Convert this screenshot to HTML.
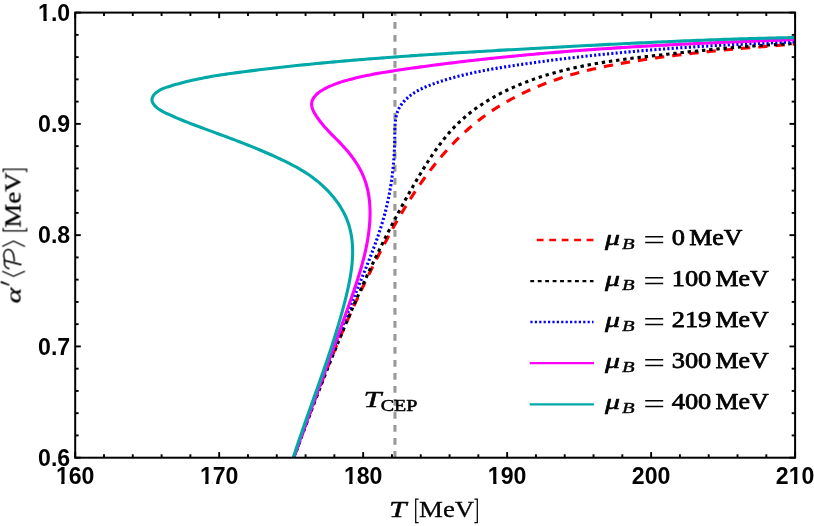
<!DOCTYPE html>
<html><head><meta charset="utf-8"><title>plot</title>
<style>
html,body{margin:0;padding:0;background:#fff;}
body{width:814px;height:526px;overflow:hidden;font-family:"Liberation Sans",sans-serif;}
svg{display:block;}
.tl text{font-family:"Liberation Sans",sans-serif;font-weight:bold;font-size:23.1px;fill:#000;}
.ser{font-family:"Liberation Serif",serif;fill:#000;}
</style></head><body>
<svg width="814" height="526" viewBox="0 0 814 526">
<rect x="0" y="0" width="814" height="526" fill="#fff"/>
<defs><clipPath id="cp"><rect x="75.2" y="12.6" width="719.9" height="445.09999999999997"/></clipPath></defs>
<g clip-path="url(#cp)" fill="none" stroke-linejoin="round">
<line x1="394.95" y1="8.9" x2="394.95" y2="460" stroke="#999999" stroke-width="3.1" stroke-dasharray="6.8 6.2"/>
<path d="M290.69,467.13 C291.00,466.24 291.31,465.34 291.61,464.45 C291.92,463.56 292.23,462.66 292.54,461.77 C292.85,460.88 293.15,459.98 293.46,459.09 C293.77,458.20 294.08,457.31 294.39,456.42 C294.70,455.52 295.01,454.63 295.33,453.74 C295.64,452.85 295.95,451.96 296.26,451.06 C296.57,450.17 296.89,449.28 297.20,448.39 C297.51,447.50 297.83,446.61 298.14,445.72 C298.45,444.83 298.77,443.94 299.08,443.05 C299.40,442.16 299.72,441.27 300.03,440.38 C300.35,439.49 300.66,438.60 300.98,437.71 C301.30,436.82 301.62,435.93 301.94,435.04 C302.26,434.15 302.57,433.26 302.89,432.37 C303.21,431.48 303.53,430.59 303.85,429.71 C304.18,428.82 304.50,427.93 304.82,427.04 C305.14,426.15 305.46,425.27 305.79,424.38 C306.11,423.49 306.43,422.60 306.76,421.72 C307.08,420.83 307.41,419.94 307.73,419.05 C308.06,418.17 308.39,417.28 308.71,416.40 C309.04,415.51 309.37,414.62 309.69,413.74 C310.02,412.85 310.35,411.97 310.68,411.08 C311.01,410.20 311.34,409.31 311.67,408.43 C312.00,407.54 312.33,406.66 312.66,405.77 C313.00,404.89 313.33,404.00 313.66,403.12 C314.00,402.24 314.33,401.35 314.66,400.47 C315.00,399.59 315.33,398.70 315.67,397.82 C316.01,396.94 316.34,396.06 316.68,395.17 C317.02,394.29 317.36,393.41 317.69,392.53 C318.03,391.65 318.37,390.76 318.71,389.88 C319.05,389.00 319.39,388.12 319.74,387.24 C320.08,386.36 320.42,385.48 320.76,384.60 C321.10,383.72 321.45,382.84 321.79,381.96 C322.14,381.08 322.48,380.20 322.83,379.32 C323.17,378.44 323.52,377.56 323.87,376.69 C324.22,375.81 324.56,374.93 324.91,374.05 C325.26,373.17 325.61,372.30 325.96,371.42 C326.31,370.54 326.66,369.67 327.01,368.79 C327.37,367.91 327.72,367.04 328.07,366.16 C328.43,365.28 328.78,364.41 329.14,363.53 C329.49,362.66 329.85,361.78 330.20,360.91 C330.56,360.03 330.92,359.16 331.28,358.29 C331.63,357.41 331.99,356.54 332.35,355.66 C332.71,354.79 333.07,353.92 333.43,353.05 C333.80,352.17 334.16,351.30 334.52,350.43 C334.88,349.56 335.25,348.68 335.61,347.81 C335.98,346.94 336.34,346.07 336.71,345.20 C337.07,344.33 337.44,343.46 337.81,342.59 C338.18,341.72 338.55,340.85 338.92,339.98 C339.29,339.11 339.66,338.24 340.03,337.37 C340.40,336.51 340.77,335.64 341.14,334.77 C341.52,333.90 341.89,333.04 342.27,332.17 C342.64,331.30 343.02,330.43 343.39,329.57 C343.77,328.70 344.15,327.84 344.53,326.97 C344.90,326.11 345.28,325.24 345.66,324.38 C346.04,323.51 346.43,322.65 346.81,321.78 C347.19,320.92 347.57,320.06 347.96,319.19 C348.34,318.33 348.72,317.47 349.11,316.60 C349.49,315.74 349.88,314.88 350.27,314.02 C350.66,313.16 351.04,312.30 351.43,311.44 C351.82,310.57 352.21,309.71 352.60,308.85 C352.99,307.99 353.39,307.14 353.78,306.28 C354.17,305.42 354.57,304.56 354.96,303.70 C355.35,302.84 355.75,301.98 356.15,301.13 C356.54,300.27 356.94,299.41 357.34,298.56 C357.74,297.70 358.14,296.84 358.54,295.99 C358.94,295.13 359.34,294.28 359.74,293.42 C360.14,292.57 360.55,291.71 360.95,290.86 C361.35,290.01 361.76,289.15 362.17,288.30 C362.57,287.45 362.98,286.60 363.39,285.74 C363.79,284.89 364.20,284.04 364.61,283.19 C365.02,282.34 365.43,281.49 365.85,280.64 C366.26,279.79 366.67,278.94 367.08,278.09 C367.50,277.24 367.91,276.39 368.33,275.54 C368.74,274.70 369.16,273.85 369.58,273.00 C370.00,272.15 370.41,271.31 370.83,270.46 C371.25,269.61 371.67,268.77 372.10,267.92 C372.52,267.08 372.94,266.23 373.36,265.39 C373.79,264.55 374.21,263.70 374.64,262.86 C375.06,262.01 375.49,261.17 375.92,260.33 C376.35,259.49 376.77,258.65 377.20,257.80 C377.63,256.96 378.06,256.12 378.50,255.28 C378.93,254.44 379.36,253.60 379.79,252.76 C380.23,251.92 380.66,251.09 381.10,250.25 C381.53,249.41 381.97,248.57 382.41,247.74 C382.85,246.90 383.29,246.06 383.73,245.23 C384.17,244.39 384.61,243.56 385.05,242.72 C385.49,241.89 385.94,241.05 386.38,240.22 C386.83,239.39 387.28,238.56 387.72,237.73 C388.17,236.89 388.62,236.06 389.07,235.23 C389.52,234.40 389.98,233.57 390.43,232.75 C390.89,231.92 391.34,231.09 391.80,230.26 C392.26,229.44 392.71,228.61 393.18,227.79 C393.64,226.96 394.10,226.14 394.56,225.32 C395.03,224.49 395.49,223.67 395.96,222.85 C396.43,222.03 396.89,221.21 397.36,220.39 C397.84,219.57 398.31,218.75 398.78,217.94 C399.26,217.12 399.73,216.31 400.21,215.49 C400.69,214.68 401.17,213.86 401.65,213.05 C402.13,212.24 402.62,211.43 403.10,210.62 C403.59,209.81 404.08,209.00 404.57,208.19 C405.06,207.38 405.55,206.58 406.05,205.77 C406.54,204.97 407.04,204.17 407.54,203.36 C408.04,202.56 408.54,201.76 409.04,200.96 C409.54,200.16 410.05,199.36 410.56,198.57 C411.07,197.77 411.58,196.98 412.09,196.18 C412.60,195.39 413.12,194.60 413.63,193.81 C414.15,193.02 414.67,192.23 415.19,191.44 C415.72,190.66 416.24,189.87 416.77,189.09 C417.30,188.31 417.83,187.52 418.36,186.74 C418.89,185.96 419.43,185.19 419.97,184.41 C420.51,183.63 421.05,182.86 421.59,182.09 C422.13,181.31 422.68,180.54 423.23,179.77 C423.78,179.01 424.33,178.24 424.88,177.48 C425.44,176.71 426.00,175.95 426.56,175.19 C427.12,174.43 427.68,173.67 428.25,172.91 C428.81,172.16 429.38,171.40 429.96,170.65 C430.53,169.90 431.10,169.15 431.68,168.41 C432.26,167.66 432.84,166.91 433.43,166.17 C434.01,165.43 434.60,164.69 435.19,163.95 C435.78,163.22 436.38,162.48 436.97,161.75 C437.57,161.02 438.17,160.29 438.77,159.56 C439.38,158.84 439.98,158.11 440.60,157.39 C441.21,156.67 441.82,155.95 442.44,155.24 C443.05,154.52 443.67,153.81 444.30,153.10 C444.92,152.39 445.55,151.69 446.18,150.98 C446.81,150.28 447.44,149.58 448.08,148.88 C448.72,148.19 449.36,147.49 450.00,146.80 C450.65,146.11 451.30,145.42 451.95,144.74 C452.60,144.06 453.25,143.38 453.91,142.70 C454.57,142.02 455.23,141.35 455.90,140.68 C456.57,140.01 457.24,139.34 457.91,138.68 C458.58,138.02 459.26,137.36 459.94,136.70 C460.62,136.05 461.30,135.40 461.99,134.75 C462.68,134.10 463.37,133.46 464.06,132.82 C464.76,132.18 465.46,131.54 466.16,130.91 C466.86,130.28 467.57,129.65 468.28,129.03 C468.99,128.41 469.70,127.79 470.42,127.17 C471.14,126.56 471.86,125.95 472.58,125.34 C473.31,124.74 474.03,124.13 474.77,123.54 C475.50,122.94 476.23,122.35 476.97,121.76 C477.71,121.17 478.46,120.59 479.20,120.01 C479.95,119.43 480.70,118.86 481.45,118.29 C482.21,117.72 482.97,117.16 483.73,116.60 C484.49,116.04 485.25,115.49 486.02,114.94 C486.79,114.39 487.56,113.84 488.34,113.30 C489.11,112.76 489.89,112.23 490.67,111.70 C491.45,111.17 492.24,110.64 493.03,110.12 C493.82,109.60 494.61,109.08 495.40,108.57 C496.19,108.06 496.99,107.55 497.79,107.05 C498.59,106.55 499.40,106.05 500.20,105.56 C501.01,105.07 501.82,104.58 502.63,104.10 C503.44,103.61 504.25,103.13 505.07,102.66 C505.89,102.18 506.71,101.71 507.53,101.25 C508.35,100.78 509.17,100.32 510.00,99.87 C510.83,99.41 511.66,98.96 512.49,98.51 C513.32,98.07 514.16,97.62 514.99,97.18 C515.83,96.75 516.67,96.31 517.51,95.88 C518.35,95.45 519.19,95.03 520.04,94.61 C520.89,94.19 521.73,93.77 522.58,93.36 C523.43,92.95 524.29,92.54 525.14,92.13 C525.99,91.73 526.85,91.33 527.71,90.94 C528.57,90.54 529.43,90.15 530.29,89.77 C531.15,89.38 532.01,89.00 532.88,88.62 C533.74,88.24 534.61,87.87 535.48,87.50 C536.35,87.13 537.22,86.76 538.09,86.40 C538.97,86.04 539.84,85.68 540.72,85.33 C541.59,84.98 542.47,84.63 543.35,84.28 C544.23,83.94 545.11,83.60 545.99,83.26 C546.88,82.92 547.76,82.59 548.65,82.26 C549.53,81.93 550.42,81.61 551.31,81.29 C552.19,80.97 553.08,80.65 553.98,80.34 C554.87,80.02 555.76,79.71 556.65,79.41 C557.55,79.10 558.44,78.80 559.34,78.51 C560.24,78.21 561.13,77.92 562.03,77.63 C562.93,77.34 563.83,77.05 564.73,76.77 C565.63,76.49 566.54,76.21 567.44,75.93 C568.35,75.66 569.25,75.39 570.16,75.12 C571.06,74.85 571.97,74.59 572.88,74.33 C573.78,74.07 574.69,73.81 575.60,73.56 C576.51,73.31 577.42,73.06 578.34,72.81 C579.25,72.56 580.16,72.32 581.07,72.08 C581.99,71.84 582.90,71.60 583.82,71.37 C584.73,71.13 585.65,70.90 586.56,70.68 C587.48,70.45 588.40,70.22 589.32,70.00 C590.24,69.78 591.15,69.56 592.07,69.35 C592.99,69.13 593.91,68.92 594.83,68.71 C595.76,68.50 596.68,68.29 597.60,68.08 C598.52,67.88 599.44,67.68 600.37,67.48 C601.29,67.28 602.21,67.08 603.14,66.89 C604.06,66.69 604.99,66.50 605.91,66.31 C606.84,66.12 607.76,65.93 608.69,65.75 C609.62,65.56 610.54,65.38 611.47,65.20 C612.40,65.02 613.32,64.84 614.25,64.67 C615.18,64.49 616.11,64.32 617.04,64.15 C617.97,63.97 618.90,63.80 619.83,63.64 C620.76,63.47 621.69,63.30 622.62,63.14 C623.55,62.98 624.48,62.81 625.41,62.65 C626.34,62.49 627.27,62.33 628.20,62.18 C629.13,62.02 630.06,61.86 631.00,61.71 C631.93,61.56 632.86,61.41 633.79,61.25 C634.72,61.10 635.66,60.96 636.59,60.81 C637.52,60.66 638.46,60.51 639.39,60.37 C640.32,60.22 641.26,60.08 642.19,59.94 C643.12,59.79 644.06,59.65 644.99,59.51 C645.93,59.37 646.86,59.23 647.79,59.10 C648.73,58.96 649.66,58.82 650.60,58.69 C651.53,58.55 652.47,58.42 653.40,58.28 C654.34,58.15 655.27,58.02 656.21,57.89 C657.14,57.76 658.08,57.63 659.02,57.50 C659.95,57.37 660.89,57.24 661.82,57.11 C662.76,56.99 663.70,56.86 664.63,56.74 C665.57,56.61 666.50,56.49 667.44,56.37 C668.38,56.24 669.31,56.12 670.25,56.00 C671.19,55.88 672.13,55.76 673.06,55.64 C674.00,55.52 674.94,55.41 675.87,55.29 C676.81,55.17 677.75,55.06 678.69,54.94 C679.62,54.83 680.56,54.71 681.50,54.60 C682.44,54.49 683.37,54.38 684.31,54.27 C685.25,54.15 686.19,54.04 687.13,53.94 C688.07,53.83 689.00,53.72 689.94,53.61 C690.88,53.50 691.82,53.40 692.76,53.29 C693.70,53.18 694.63,53.08 695.57,52.98 C696.51,52.87 697.45,52.77 698.39,52.67 C699.33,52.56 700.27,52.46 701.21,52.36 C702.15,52.26 703.09,52.16 704.03,52.06 C704.96,51.96 705.90,51.86 706.84,51.77 C707.78,51.67 708.72,51.57 709.66,51.47 C710.60,51.38 711.54,51.28 712.48,51.19 C713.42,51.09 714.36,51.00 715.30,50.90 C716.24,50.81 717.18,50.72 718.12,50.63 C719.06,50.53 720.00,50.44 720.94,50.35 C721.88,50.26 722.82,50.17 723.76,50.08 C724.70,49.99 725.64,49.90 726.58,49.81 C727.52,49.72 728.46,49.64 729.40,49.55 C730.34,49.46 731.28,49.38 732.23,49.29 C733.17,49.20 734.11,49.12 735.05,49.03 C735.99,48.95 736.93,48.86 737.87,48.78 C738.81,48.69 739.75,48.61 740.69,48.53 C741.63,48.45 742.57,48.36 743.51,48.28 C744.46,48.20 745.40,48.12 746.34,48.04 C747.28,47.95 748.22,47.87 749.16,47.79 C750.10,47.71 751.04,47.63 751.98,47.55 C752.93,47.48 753.87,47.40 754.81,47.32 C755.75,47.24 756.69,47.16 757.63,47.08 C758.57,47.01 759.52,46.93 760.46,46.85 C761.40,46.77 762.34,46.70 763.28,46.62 C764.22,46.54 765.16,46.47 766.11,46.39 C767.05,46.32 767.99,46.24 768.93,46.17 C769.87,46.09 770.81,46.02 771.75,45.94 C772.70,45.87 773.64,45.79 774.58,45.72 C775.52,45.64 776.46,45.57 777.40,45.50 C778.35,45.42 779.29,45.35 780.23,45.28 C781.17,45.20 782.11,45.13 783.05,45.06 C784.00,44.98 784.94,44.91 785.88,44.84 C786.82,44.77 787.76,44.69 788.71,44.62 C789.65,44.55 790.59,44.48 791.53,44.40 C792.47,44.33 793.41,44.26 794.36,44.19 C795.30,44.12 796.24,44.05 797.18,43.97 C798.12,43.90 799.06,43.83 800.01,43.76" stroke="#ff0000" stroke-width="3.10" stroke-dasharray="9.3 8.0" stroke-dashoffset="0.00"/>
<path d="M290.38,466.86 C290.72,465.97 291.05,465.07 291.38,464.18 C291.71,463.28 292.04,462.39 292.37,461.49 C292.70,460.59 293.03,459.70 293.37,458.80 C293.70,457.91 294.03,457.01 294.36,456.12 C294.69,455.22 295.02,454.32 295.36,453.43 C295.69,452.53 296.02,451.64 296.35,450.74 C296.68,449.85 297.02,448.95 297.35,448.06 C297.68,447.16 298.01,446.27 298.34,445.37 C298.68,444.48 299.01,443.58 299.34,442.69 C299.68,441.79 300.01,440.90 300.34,440.00 C300.68,439.11 301.01,438.21 301.34,437.32 C301.68,436.42 302.01,435.53 302.34,434.63 C302.68,433.74 303.01,432.84 303.35,431.95 C303.68,431.05 304.01,430.16 304.35,429.26 C304.68,428.37 305.02,427.47 305.35,426.58 C305.69,425.69 306.02,424.79 306.36,423.90 C306.69,423.00 307.03,422.11 307.37,421.22 C307.70,420.32 308.04,419.43 308.38,418.53 C308.71,417.64 309.05,416.75 309.39,415.85 C309.72,414.96 310.06,414.07 310.40,413.17 C310.74,412.28 311.07,411.39 311.41,410.49 C311.75,409.60 312.09,408.71 312.43,407.81 C312.77,406.92 313.11,406.03 313.45,405.14 C313.78,404.24 314.12,403.35 314.46,402.46 C314.80,401.57 315.15,400.67 315.49,399.78 C315.83,398.89 316.17,398.00 316.51,397.11 C316.85,396.21 317.19,395.32 317.54,394.43 C317.88,393.54 318.22,392.65 318.56,391.76 C318.91,390.87 319.25,389.97 319.59,389.08 C319.94,388.19 320.28,387.30 320.63,386.41 C320.97,385.52 321.32,384.63 321.66,383.74 C322.01,382.85 322.35,381.96 322.70,381.07 C323.05,380.18 323.39,379.29 323.74,378.40 C324.09,377.51 324.44,376.62 324.78,375.73 C325.13,374.84 325.48,373.95 325.83,373.06 C326.18,372.18 326.53,371.29 326.88,370.40 C327.23,369.51 327.58,368.62 327.93,367.73 C328.28,366.85 328.63,365.96 328.98,365.07 C329.34,364.18 329.69,363.29 330.04,362.41 C330.40,361.52 330.75,360.63 331.10,359.75 C331.46,358.86 331.81,357.97 332.17,357.09 C332.52,356.20 332.88,355.31 333.23,354.43 C333.59,353.54 333.95,352.66 334.31,351.77 C334.66,350.88 335.02,350.00 335.38,349.11 C335.74,348.23 336.10,347.34 336.46,346.46 C336.82,345.57 337.18,344.69 337.54,343.81 C337.90,342.92 338.26,342.04 338.62,341.15 C338.99,340.27 339.35,339.39 339.71,338.50 C340.08,337.62 340.44,336.74 340.80,335.86 C341.17,334.97 341.53,334.09 341.90,333.21 C342.27,332.33 342.63,331.45 343.00,330.56 C343.37,329.68 343.74,328.80 344.11,327.92 C344.47,327.04 344.84,326.16 345.21,325.28 C345.58,324.40 345.95,323.52 346.33,322.64 C346.70,321.76 347.07,320.88 347.44,320.00 C347.82,319.12 348.19,318.24 348.56,317.36 C348.94,316.48 349.31,315.61 349.69,314.73 C350.07,313.85 350.44,312.97 350.82,312.10 C351.20,311.22 351.58,310.34 351.95,309.46 C352.33,308.59 352.71,307.71 353.09,306.84 C353.47,305.96 353.85,305.08 354.24,304.21 C354.62,303.33 355.00,302.46 355.38,301.58 C355.77,300.71 356.15,299.84 356.54,298.96 C356.92,298.09 357.31,297.21 357.70,296.34 C358.08,295.47 358.47,294.60 358.86,293.72 C359.25,292.85 359.64,291.98 360.03,291.11 C360.42,290.24 360.81,289.36 361.20,288.49 C361.59,287.62 361.98,286.75 362.38,285.88 C362.77,285.01 363.17,284.14 363.56,283.27 C363.96,282.40 364.35,281.53 364.75,280.67 C365.15,279.80 365.55,278.93 365.94,278.06 C366.34,277.19 366.74,276.33 367.14,275.46 C367.54,274.59 367.95,273.73 368.35,272.86 C368.75,271.99 369.15,271.13 369.56,270.26 C369.96,269.40 370.37,268.53 370.78,267.67 C371.18,266.80 371.59,265.94 372.00,265.08 C372.41,264.21 372.81,263.35 373.22,262.49 C373.63,261.63 374.05,260.76 374.46,259.90 C374.87,259.04 375.28,258.18 375.70,257.32 C376.11,256.46 376.53,255.60 376.94,254.74 C377.36,253.88 377.77,253.02 378.19,252.16 C378.61,251.30 379.03,250.45 379.45,249.59 C379.87,248.73 380.29,247.87 380.71,247.02 C381.14,246.16 381.56,245.30 381.98,244.45 C382.41,243.59 382.83,242.74 383.26,241.88 C383.68,241.03 384.11,240.17 384.54,239.32 C384.97,238.47 385.40,237.61 385.83,236.76 C386.26,235.91 386.69,235.06 387.12,234.21 C387.56,233.35 387.99,232.50 388.42,231.65 C388.86,230.80 389.30,229.95 389.73,229.10 C390.17,228.25 390.61,227.41 391.05,226.56 C391.49,225.71 391.93,224.86 392.37,224.02 C392.81,223.17 393.25,222.32 393.70,221.48 C394.14,220.63 394.58,219.79 395.03,218.94 C395.48,218.10 395.92,217.25 396.37,216.41 C396.82,215.57 397.27,214.72 397.72,213.88 C398.17,213.04 398.62,212.20 399.07,211.36 C399.53,210.52 399.98,209.68 400.44,208.84 C400.89,208.00 401.35,207.16 401.81,206.32 C402.26,205.48 402.72,204.65 403.18,203.81 C403.64,202.97 404.10,202.14 404.57,201.30 C405.03,200.46 405.49,199.63 405.96,198.79 C406.42,197.96 406.89,197.13 407.35,196.29 C407.82,195.46 408.29,194.63 408.76,193.80 C409.23,192.97 409.70,192.13 410.17,191.30 C410.64,190.47 411.12,189.64 411.59,188.82 C412.06,187.99 412.54,187.16 413.02,186.33 C413.49,185.50 413.97,184.68 414.45,183.85 C414.93,183.03 415.41,182.20 415.89,181.38 C416.38,180.55 416.86,179.73 417.34,178.90 C417.83,178.08 418.31,177.26 418.80,176.44 C419.29,175.62 419.78,174.80 420.27,173.98 C420.76,173.16 421.25,172.34 421.75,171.52 C422.24,170.71 422.74,169.89 423.24,169.08 C423.74,168.26 424.24,167.45 424.74,166.64 C425.25,165.83 425.75,165.02 426.26,164.21 C426.77,163.40 427.29,162.60 427.80,161.79 C428.32,160.99 428.83,160.19 429.36,159.39 C429.88,158.59 430.40,157.79 430.93,156.99 C431.46,156.20 431.99,155.40 432.53,154.61 C433.06,153.82 433.60,153.04 434.14,152.25 C434.69,151.46 435.23,150.68 435.79,149.90 C436.34,149.12 436.89,148.35 437.45,147.57 C438.01,146.80 438.58,146.03 439.15,145.26 C439.72,144.50 440.29,143.73 440.87,142.97 C441.45,142.21 442.03,141.46 442.62,140.71 C443.21,139.95 443.80,139.21 444.40,138.46 C445.00,137.72 445.61,136.98 446.22,136.24 C446.83,135.51 447.44,134.78 448.06,134.05 C448.69,133.33 449.31,132.61 449.95,131.89 C450.58,131.18 451.22,130.47 451.86,129.76 C452.51,129.06 453.16,128.36 453.81,127.67 C454.47,126.97 455.13,126.29 455.80,125.61 C456.47,124.92 457.15,124.25 457.83,123.58 C458.51,122.91 459.20,122.25 459.90,121.60 C460.59,120.94 461.29,120.29 462.00,119.65 C462.71,119.01 463.42,118.37 464.14,117.75 C464.86,117.12 465.59,116.50 466.32,115.88 C467.05,115.27 467.79,114.66 468.53,114.06 C469.27,113.46 470.02,112.87 470.77,112.28 C471.52,111.69 472.28,111.11 473.04,110.54 C473.81,109.96 474.58,109.39 475.35,108.83 C476.12,108.27 476.90,107.71 477.68,107.17 C478.46,106.62 479.25,106.07 480.04,105.54 C480.83,105.00 481.62,104.47 482.42,103.95 C483.22,103.43 484.02,102.91 484.83,102.40 C485.63,101.89 486.44,101.38 487.26,100.88 C488.07,100.38 488.89,99.89 489.71,99.40 C490.53,98.91 491.36,98.43 492.19,97.96 C493.01,97.48 493.85,97.01 494.68,96.55 C495.51,96.08 496.35,95.62 497.19,95.17 C498.03,94.72 498.88,94.27 499.72,93.83 C500.57,93.39 501.42,92.95 502.27,92.52 C503.12,92.09 503.98,91.66 504.84,91.24 C505.69,90.82 506.55,90.40 507.42,89.99 C508.28,89.58 509.14,89.18 510.01,88.78 C510.88,88.38 511.75,87.99 512.62,87.60 C513.49,87.21 514.37,86.82 515.24,86.44 C516.12,86.06 517.00,85.69 517.88,85.32 C518.76,84.95 519.64,84.58 520.52,84.22 C521.41,83.86 522.29,83.50 523.18,83.15 C524.07,82.80 524.96,82.45 525.85,82.11 C526.74,81.77 527.64,81.43 528.53,81.10 C529.43,80.77 530.32,80.44 531.22,80.11 C532.12,79.79 533.02,79.47 533.92,79.15 C534.82,78.84 535.73,78.53 536.63,78.22 C537.53,77.91 538.44,77.61 539.35,77.31 C540.25,77.01 541.16,76.72 542.07,76.43 C542.98,76.14 543.89,75.86 544.81,75.57 C545.72,75.29 546.63,75.01 547.55,74.74 C548.46,74.47 549.38,74.20 550.30,73.93 C551.21,73.67 552.13,73.40 553.05,73.14 C553.97,72.89 554.89,72.63 555.81,72.38 C556.73,72.13 557.66,71.88 558.58,71.64 C559.50,71.40 560.43,71.16 561.35,70.92 C562.28,70.68 563.20,70.45 564.13,70.22 C565.06,69.99 565.99,69.77 566.92,69.54 C567.84,69.32 568.77,69.10 569.70,68.89 C570.63,68.67 571.57,68.46 572.50,68.25 C573.43,68.04 574.36,67.83 575.29,67.63 C576.23,67.43 577.16,67.23 578.10,67.03 C579.03,66.83 579.96,66.64 580.90,66.44 C581.84,66.25 582.77,66.06 583.71,65.88 C584.65,65.69 585.58,65.51 586.52,65.33 C587.46,65.15 588.40,64.97 589.34,64.79 C590.27,64.62 591.21,64.45 592.15,64.28 C593.09,64.11 594.03,63.94 594.97,63.77 C595.91,63.61 596.86,63.44 597.80,63.28 C598.74,63.12 599.68,62.96 600.62,62.81 C601.56,62.65 602.51,62.50 603.45,62.35 C604.39,62.19 605.34,62.04 606.28,61.90 C607.22,61.75 608.17,61.60 609.11,61.46 C610.05,61.32 611.00,61.17 611.94,61.03 C612.89,60.89 613.83,60.75 614.78,60.62 C615.72,60.48 616.67,60.35 617.61,60.21 C618.56,60.08 619.51,59.95 620.45,59.82 C621.40,59.69 622.34,59.56 623.29,59.43 C624.24,59.30 625.18,59.18 626.13,59.05 C627.08,58.93 628.02,58.81 628.97,58.68 C629.92,58.56 630.87,58.44 631.81,58.32 C632.76,58.20 633.71,58.08 634.66,57.97 C635.60,57.85 636.55,57.73 637.50,57.62 C638.45,57.50 639.40,57.39 640.34,57.27 C641.29,57.16 642.24,57.05 643.19,56.94 C644.14,56.82 645.09,56.71 646.03,56.60 C646.98,56.49 647.93,56.38 648.88,56.27 C649.83,56.16 650.78,56.06 651.73,55.95 C652.68,55.84 653.63,55.73 654.57,55.62 C655.52,55.52 656.47,55.41 657.42,55.30 C658.37,55.20 659.32,55.09 660.27,54.99 C661.22,54.88 662.17,54.77 663.12,54.67 C664.06,54.56 665.01,54.46 665.96,54.35 C666.91,54.25 667.86,54.14 668.81,54.04 C669.76,53.93 670.71,53.83 671.66,53.72 C672.61,53.62 673.56,53.52 674.51,53.41 C675.46,53.31 676.41,53.20 677.35,53.10 C678.30,53.00 679.25,52.90 680.20,52.79 C681.15,52.69 682.10,52.59 683.05,52.49 C684.00,52.38 684.95,52.28 685.90,52.18 C686.85,52.08 687.80,51.98 688.75,51.88 C689.70,51.78 690.65,51.68 691.60,51.58 C692.55,51.48 693.50,51.38 694.45,51.28 C695.40,51.19 696.35,51.09 697.30,50.99 C698.25,50.89 699.20,50.80 700.15,50.70 C701.10,50.60 702.05,50.51 703.00,50.41 C703.95,50.31 704.90,50.22 705.85,50.13 C706.80,50.03 707.75,49.94 708.70,49.84 C709.65,49.75 710.60,49.66 711.55,49.57 C712.50,49.47 713.45,49.38 714.40,49.29 C715.35,49.20 716.31,49.11 717.26,49.02 C718.21,48.93 719.16,48.84 720.11,48.75 C721.06,48.66 722.01,48.58 722.96,48.49 C723.91,48.40 724.86,48.32 725.81,48.23 C726.77,48.14 727.72,48.06 728.67,47.98 C729.62,47.89 730.57,47.81 731.52,47.73 C732.47,47.64 733.43,47.56 734.38,47.48 C735.33,47.40 736.28,47.32 737.23,47.24 C738.18,47.16 739.13,47.08 740.09,47.00 C741.04,46.93 741.99,46.85 742.94,46.77 C743.89,46.70 744.85,46.62 745.80,46.55 C746.75,46.47 747.70,46.40 748.65,46.33 C749.61,46.25 750.56,46.18 751.51,46.11 C752.46,46.04 753.42,45.97 754.37,45.90 C755.32,45.83 756.27,45.76 757.23,45.70 C758.18,45.63 759.13,45.56 760.09,45.50 C761.04,45.43 761.99,45.37 762.94,45.31 C763.90,45.24 764.85,45.18 765.80,45.12 C766.76,45.06 767.71,45.00 768.66,44.94 C769.62,44.88 770.57,44.83 771.52,44.77 C772.47,44.71 773.43,44.66 774.38,44.60 C775.34,44.55 776.29,44.49 777.24,44.44 C778.20,44.39 779.15,44.34 780.10,44.29 C781.06,44.24 782.01,44.19 782.96,44.14 C783.92,44.09 784.87,44.05 785.83,44.00 C786.78,43.96 787.73,43.91 788.69,43.87 C789.64,43.82 790.60,43.78 791.55,43.74 C792.50,43.70 793.46,43.66 794.41,43.62 C795.37,43.59 796.32,43.55 797.28,43.51 C798.23,43.48 799.18,43.44 800.14,43.41" stroke="#000000" stroke-width="3.10" stroke-dasharray="3.4 3.811" stroke-dashoffset="-1.83"/>
<path d="M290.64,467.00 C290.97,466.04 291.31,465.08 291.65,464.12 C291.99,463.16 292.33,462.20 292.67,461.25 C293.01,460.29 293.35,459.33 293.69,458.37 C294.03,457.41 294.37,456.45 294.71,455.49 C295.05,454.54 295.39,453.58 295.73,452.62 C296.07,451.66 296.41,450.70 296.75,449.74 C297.09,448.79 297.43,447.83 297.77,446.87 C298.11,445.91 298.45,444.95 298.80,444.00 C299.14,443.04 299.48,442.08 299.82,441.12 C300.16,440.16 300.50,439.21 300.85,438.25 C301.19,437.29 301.53,436.33 301.87,435.38 C302.22,434.42 302.56,433.46 302.90,432.50 C303.25,431.55 303.59,430.59 303.93,429.63 C304.28,428.67 304.62,427.72 304.96,426.76 C305.31,425.80 305.65,424.85 306.00,423.89 C306.34,422.93 306.68,421.98 307.03,421.02 C307.37,420.06 307.72,419.11 308.07,418.15 C308.41,417.19 308.76,416.24 309.10,415.28 C309.45,414.32 309.79,413.37 310.14,412.41 C310.49,411.45 310.83,410.50 311.18,409.54 C311.53,408.59 311.88,407.63 312.22,406.68 C312.57,405.72 312.92,404.76 313.27,403.81 C313.62,402.85 313.96,401.90 314.31,400.94 C314.66,399.99 315.01,399.03 315.36,398.08 C315.71,397.12 316.06,396.17 316.41,395.21 C316.76,394.26 317.11,393.30 317.46,392.35 C317.81,391.39 318.16,390.44 318.52,389.48 C318.87,388.53 319.22,387.58 319.57,386.62 C319.92,385.67 320.28,384.71 320.63,383.76 C320.98,382.81 321.33,381.85 321.69,380.90 C322.04,379.95 322.40,378.99 322.75,378.04 C323.10,377.09 323.46,376.13 323.81,375.18 C324.17,374.23 324.52,373.27 324.88,372.32 C325.24,371.37 325.59,370.42 325.95,369.46 C326.31,368.51 326.66,367.56 327.02,366.61 C327.38,365.65 327.73,364.70 328.09,363.75 C328.45,362.80 328.81,361.85 329.17,360.90 C329.53,359.94 329.89,358.99 330.25,358.04 C330.61,357.09 330.97,356.14 331.33,355.19 C331.69,354.24 332.05,353.29 332.41,352.34 C332.77,351.39 333.13,350.43 333.50,349.48 C333.86,348.53 334.22,347.58 334.59,346.63 C334.95,345.68 335.31,344.74 335.68,343.79 C336.04,342.84 336.41,341.89 336.77,340.94 C337.14,339.99 337.50,339.04 337.87,338.09 C338.23,337.14 338.60,336.19 338.97,335.24 C339.34,334.30 339.70,333.35 340.07,332.40 C340.44,331.45 340.81,330.50 341.18,329.56 C341.55,328.61 341.91,327.66 342.28,326.71 C342.65,325.77 343.03,324.82 343.40,323.87 C343.77,322.93 344.14,321.98 344.51,321.03 C344.88,320.09 345.26,319.14 345.63,318.19 C346.00,317.25 346.38,316.30 346.75,315.36 C347.12,314.41 347.50,313.46 347.87,312.52 C348.25,311.57 348.62,310.63 349.00,309.68 C349.38,308.74 349.75,307.79 350.13,306.85 C350.51,305.91 350.89,304.96 351.26,304.02 C351.64,303.07 352.02,302.13 352.40,301.19 C352.78,300.24 353.16,299.30 353.54,298.36 C353.92,297.41 354.30,296.47 354.69,295.53 C355.07,294.59 355.45,293.64 355.83,292.70 C356.22,291.76 356.60,290.82 356.98,289.88 C357.37,288.93 357.75,287.99 358.14,287.05 C358.52,286.11 358.91,285.17 359.29,284.23 C359.68,283.29 360.06,282.35 360.45,281.40 C360.84,280.46 361.22,279.52 361.61,278.58 C361.99,277.64 362.38,276.70 362.76,275.76 C363.15,274.82 363.53,273.87 363.91,272.93 C364.30,271.99 364.68,271.05 365.06,270.11 C365.44,269.16 365.83,268.22 366.21,267.28 C366.59,266.33 366.96,265.39 367.34,264.45 C367.72,263.50 368.10,262.56 368.47,261.61 C368.84,260.67 369.22,259.72 369.59,258.77 C369.96,257.83 370.33,256.88 370.70,255.93 C371.07,254.98 371.43,254.03 371.79,253.08 C372.16,252.13 372.52,251.18 372.88,250.23 C373.24,249.28 373.59,248.33 373.95,247.37 C374.30,246.42 374.65,245.47 375.00,244.51 C375.35,243.55 375.69,242.60 376.04,241.64 C376.38,240.68 376.72,239.72 377.05,238.76 C377.39,237.80 377.72,236.84 378.05,235.88 C378.38,234.92 378.70,233.95 379.03,232.99 C379.35,232.02 379.66,231.06 379.98,230.09 C380.29,229.12 380.60,228.15 380.91,227.18 C381.21,226.21 381.51,225.24 381.81,224.27 C382.10,223.30 382.40,222.32 382.68,221.35 C382.97,220.37 383.25,219.39 383.53,218.42 C383.81,217.44 384.08,216.46 384.34,215.48 C384.61,214.49 384.87,213.51 385.13,212.53 C385.38,211.54 385.63,210.56 385.88,209.57 C386.12,208.58 386.36,207.60 386.60,206.61 C386.83,205.62 387.06,204.63 387.29,203.63 C387.51,202.64 387.73,201.65 387.95,200.65 C388.16,199.66 388.37,198.66 388.57,197.67 C388.78,196.67 388.97,195.67 389.17,194.68 C389.36,193.68 389.55,192.68 389.73,191.68 C389.91,190.68 390.09,189.68 390.26,188.67 C390.44,187.67 390.60,186.67 390.77,185.66 C390.93,184.66 391.09,183.66 391.24,182.65 C391.39,181.64 391.54,180.64 391.68,179.63 C391.82,178.62 391.96,177.62 392.09,176.61 C392.22,175.60 392.35,174.59 392.47,173.58 C392.59,172.57 392.71,171.56 392.82,170.55 C392.93,169.54 393.04,168.53 393.14,167.52 C393.24,166.50 393.34,165.49 393.43,164.48 C393.53,163.47 393.61,162.45 393.70,161.44 C393.78,160.43 393.86,159.41 393.93,158.40 C394.00,157.38 394.07,156.37 394.13,155.35 C394.20,154.34 394.26,153.32 394.31,152.31 C394.36,151.29 394.41,150.28 394.46,149.26 C394.50,148.24 394.54,147.23 394.58,146.21 C394.61,145.19 394.65,144.18 394.67,143.16 C394.70,142.14 394.72,141.13 394.74,140.11 C394.76,139.09 394.77,138.08 394.78,137.06 C394.79,136.04 394.79,135.03 394.79,134.01 C394.80,132.99 394.80,131.98 394.82,130.96 C394.83,129.94 394.85,128.92 394.88,127.91 C394.91,126.89 394.95,125.88 395.02,124.86 C395.08,123.85 395.16,122.83 395.26,121.82 C395.37,120.81 395.50,119.80 395.66,118.80 C395.83,117.79 396.02,116.79 396.26,115.80 C396.50,114.82 396.77,113.83 397.09,112.87 C397.41,111.91 397.78,110.95 398.20,110.03 C398.62,109.10 399.09,108.20 399.60,107.32 C400.11,106.44 400.66,105.59 401.25,104.76 C401.84,103.93 402.47,103.13 403.12,102.35 C403.78,101.57 404.46,100.82 405.17,100.09 C405.88,99.36 406.62,98.66 407.38,97.98 C408.13,97.30 408.91,96.65 409.71,96.02 C410.51,95.39 411.33,94.78 412.16,94.20 C412.99,93.61 413.84,93.05 414.70,92.51 C415.56,91.97 416.44,91.45 417.32,90.95 C418.21,90.45 419.11,89.97 420.01,89.51 C420.92,89.04 421.83,88.60 422.75,88.17 C423.67,87.74 424.60,87.33 425.54,86.92 C426.47,86.52 427.41,86.14 428.36,85.76 C429.30,85.38 430.25,85.02 431.21,84.66 C432.16,84.31 433.11,83.96 434.07,83.62 C435.03,83.29 436.00,82.96 436.96,82.63 C437.92,82.31 438.89,81.99 439.86,81.67 C440.82,81.36 441.79,81.05 442.76,80.74 C443.73,80.44 444.70,80.14 445.68,79.85 C446.65,79.55 447.63,79.26 448.60,78.98 C449.58,78.69 450.56,78.41 451.54,78.14 C452.51,77.86 453.49,77.59 454.48,77.33 C455.46,77.06 456.44,76.80 457.42,76.54 C458.41,76.28 459.39,76.03 460.38,75.78 C461.37,75.53 462.35,75.29 463.34,75.05 C464.33,74.81 465.32,74.57 466.31,74.34 C467.30,74.10 468.29,73.88 469.28,73.65 C470.27,73.42 471.26,73.20 472.26,72.99 C473.25,72.77 474.25,72.55 475.24,72.34 C476.24,72.13 477.23,71.92 478.23,71.72 C479.22,71.52 480.22,71.32 481.22,71.12 C482.22,70.92 483.21,70.73 484.21,70.53 C485.21,70.34 486.21,70.15 487.21,69.97 C488.21,69.78 489.21,69.60 490.21,69.42 C491.21,69.23 492.21,69.06 493.21,68.88 C494.22,68.70 495.22,68.53 496.22,68.36 C497.22,68.19 498.23,68.02 499.23,67.85 C500.23,67.68 501.24,67.52 502.24,67.35 C503.24,67.19 504.25,67.03 505.25,66.87 C506.26,66.71 507.26,66.55 508.27,66.39 C509.27,66.24 510.28,66.08 511.28,65.93 C512.29,65.77 513.29,65.62 514.30,65.47 C515.30,65.32 516.31,65.17 517.31,65.02 C518.32,64.87 519.33,64.72 520.33,64.57 C521.34,64.42 522.34,64.28 523.35,64.13 C524.36,63.98 525.36,63.84 526.37,63.69 C527.38,63.55 528.38,63.41 529.39,63.26 C530.40,63.12 531.41,62.98 532.41,62.84 C533.42,62.70 534.43,62.56 535.43,62.42 C536.44,62.28 537.45,62.14 538.46,62.01 C539.47,61.87 540.47,61.73 541.48,61.60 C542.49,61.46 543.50,61.33 544.51,61.19 C545.51,61.06 546.52,60.93 547.53,60.80 C548.54,60.66 549.55,60.53 550.56,60.40 C551.56,60.27 552.57,60.14 553.58,60.01 C554.59,59.89 555.60,59.76 556.61,59.63 C557.62,59.50 558.63,59.38 559.64,59.25 C560.65,59.13 561.65,59.00 562.66,58.88 C563.67,58.76 564.68,58.63 565.69,58.51 C566.70,58.39 567.71,58.27 568.72,58.15 C569.73,58.03 570.74,57.91 571.75,57.79 C572.76,57.67 573.77,57.55 574.78,57.44 C575.79,57.32 576.80,57.20 577.81,57.09 C578.82,56.97 579.83,56.86 580.84,56.74 C581.86,56.63 582.87,56.51 583.88,56.40 C584.89,56.29 585.90,56.18 586.91,56.07 C587.92,55.96 588.93,55.85 589.94,55.74 C590.95,55.63 591.96,55.52 592.98,55.41 C593.99,55.30 595.00,55.20 596.01,55.09 C597.02,54.98 598.03,54.88 599.04,54.77 C600.06,54.67 601.07,54.56 602.08,54.46 C603.09,54.36 604.10,54.25 605.11,54.15 C606.13,54.05 607.14,53.95 608.15,53.85 C609.16,53.75 610.17,53.65 611.19,53.55 C612.20,53.45 613.21,53.35 614.22,53.25 C615.24,53.16 616.25,53.06 617.26,52.96 C618.27,52.87 619.29,52.77 620.30,52.67 C621.31,52.58 622.32,52.49 623.34,52.39 C624.35,52.30 625.36,52.21 626.37,52.11 C627.39,52.02 628.40,51.93 629.41,51.84 C630.43,51.75 631.44,51.66 632.45,51.57 C633.46,51.48 634.48,51.39 635.49,51.30 C636.50,51.21 637.52,51.13 638.53,51.04 C639.54,50.95 640.56,50.87 641.57,50.78 C642.58,50.69 643.60,50.61 644.61,50.52 C645.62,50.44 646.64,50.36 647.65,50.27 C648.66,50.19 649.68,50.11 650.69,50.03 C651.71,49.94 652.72,49.86 653.73,49.78 C654.75,49.70 655.76,49.62 656.77,49.54 C657.79,49.46 658.80,49.38 659.82,49.31 C660.83,49.23 661.84,49.15 662.86,49.07 C663.87,49.00 664.89,48.92 665.90,48.84 C666.92,48.77 667.93,48.69 668.94,48.62 C669.96,48.54 670.97,48.47 671.99,48.40 C673.00,48.32 674.02,48.25 675.03,48.18 C676.04,48.10 677.06,48.03 678.07,47.96 C679.09,47.89 680.10,47.82 681.12,47.75 C682.13,47.68 683.15,47.61 684.16,47.54 C685.18,47.47 686.19,47.40 687.20,47.34 C688.22,47.27 689.23,47.20 690.25,47.13 C691.26,47.07 692.28,47.00 693.29,46.93 C694.31,46.87 695.32,46.80 696.34,46.74 C697.35,46.67 698.37,46.61 699.38,46.55 C700.40,46.48 701.41,46.42 702.43,46.36 C703.44,46.29 704.46,46.23 705.47,46.17 C706.49,46.11 707.50,46.05 708.52,45.99 C709.53,45.93 710.55,45.87 711.56,45.81 C712.58,45.75 713.59,45.69 714.61,45.63 C715.63,45.57 716.64,45.51 717.66,45.45 C718.67,45.40 719.69,45.34 720.70,45.28 C721.72,45.23 722.73,45.17 723.75,45.11 C724.76,45.06 725.78,45.00 726.80,44.95 C727.81,44.89 728.83,44.84 729.84,44.78 C730.86,44.73 731.87,44.68 732.89,44.62 C733.90,44.57 734.92,44.52 735.94,44.47 C736.95,44.41 737.97,44.36 738.98,44.31 C740.00,44.26 741.01,44.21 742.03,44.16 C743.05,44.11 744.06,44.06 745.08,44.01 C746.09,43.96 747.11,43.91 748.12,43.86 C749.14,43.81 750.16,43.76 751.17,43.71 C752.19,43.67 753.20,43.62 754.22,43.57 C755.24,43.52 756.25,43.48 757.27,43.43 C758.28,43.38 759.30,43.34 760.31,43.29 C761.33,43.25 762.35,43.20 763.36,43.16 C764.38,43.11 765.39,43.07 766.41,43.02 C767.43,42.98 768.44,42.94 769.46,42.89 C770.48,42.85 771.49,42.81 772.51,42.76 C773.52,42.72 774.54,42.68 775.56,42.64 C776.57,42.60 777.59,42.55 778.60,42.51 C779.62,42.47 780.64,42.43 781.65,42.39 C782.67,42.35 783.69,42.31 784.70,42.27 C785.72,42.23 786.73,42.19 787.75,42.15 C788.77,42.11 789.78,42.07 790.80,42.03 C791.81,42.00 792.83,41.96 793.85,41.92 C794.86,41.88 795.88,41.84 796.90,41.81 C797.91,41.77 798.93,41.73 799.95,41.70" stroke="#0000ff" stroke-width="3.10" stroke-dasharray="2.1 2.224" stroke-dashoffset="-0.13"/>
<path d="M290.63,467.01 C291.01,465.92 291.38,464.83 291.75,463.74 C292.12,462.65 292.50,461.56 292.87,460.47 C293.24,459.38 293.62,458.30 294.00,457.21 C294.37,456.12 294.75,455.03 295.13,453.94 C295.50,452.85 295.88,451.77 296.26,450.68 C296.64,449.59 297.02,448.50 297.40,447.42 C297.78,446.33 298.16,445.24 298.54,444.16 C298.93,443.07 299.31,441.98 299.69,440.90 C300.08,439.81 300.46,438.72 300.84,437.64 C301.23,436.55 301.61,435.47 302.00,434.38 C302.39,433.30 302.77,432.21 303.16,431.13 C303.55,430.04 303.93,428.96 304.32,427.87 C304.71,426.79 305.10,425.70 305.49,424.62 C305.88,423.54 306.27,422.45 306.66,421.37 C307.05,420.28 307.44,419.20 307.83,418.12 C308.22,417.03 308.61,415.95 309.00,414.87 C309.39,413.78 309.79,412.70 310.18,411.62 C310.57,410.54 310.96,409.45 311.36,408.37 C311.75,407.29 312.15,406.21 312.54,405.12 C312.93,404.04 313.33,402.96 313.72,401.88 C314.12,400.79 314.51,399.71 314.91,398.63 C315.30,397.55 315.70,396.47 316.09,395.38 C316.49,394.30 316.88,393.22 317.28,392.14 C317.68,391.06 318.07,389.98 318.47,388.89 C318.86,387.81 319.26,386.73 319.66,385.65 C320.05,384.57 320.45,383.49 320.85,382.41 C321.24,381.32 321.64,380.24 322.04,379.16 C322.43,378.08 322.83,377.00 323.23,375.92 C323.62,374.84 324.02,373.76 324.42,372.67 C324.81,371.59 325.21,370.51 325.61,369.43 C326.01,368.35 326.40,367.27 326.80,366.19 C327.20,365.11 327.59,364.02 327.99,362.94 C328.39,361.86 328.78,360.78 329.18,359.70 C329.57,358.62 329.97,357.54 330.37,356.45 C330.76,355.37 331.16,354.29 331.55,353.21 C331.95,352.13 332.35,351.05 332.74,349.96 C333.14,348.88 333.53,347.80 333.93,346.72 C334.32,345.64 334.71,344.55 335.11,343.47 C335.50,342.39 335.90,341.31 336.29,340.22 C336.68,339.14 337.08,338.06 337.47,336.98 C337.86,335.89 338.25,334.81 338.65,333.73 C339.04,332.64 339.43,331.56 339.82,330.48 C340.21,329.39 340.60,328.31 340.99,327.23 C341.38,326.14 341.77,325.06 342.16,323.98 C342.55,322.89 342.94,321.81 343.33,320.72 C343.72,319.64 344.11,318.55 344.49,317.47 C344.88,316.38 345.27,315.30 345.65,314.21 C346.04,313.13 346.42,312.04 346.81,310.96 C347.19,309.87 347.58,308.79 347.96,307.70 C348.35,306.61 348.73,305.53 349.11,304.44 C349.49,303.36 349.88,302.27 350.26,301.18 C350.64,300.09 351.02,299.01 351.40,297.92 C351.77,296.83 352.15,295.74 352.53,294.65 C352.90,293.57 353.28,292.48 353.65,291.39 C354.02,290.30 354.39,289.21 354.76,288.11 C355.13,287.02 355.49,285.93 355.85,284.84 C356.21,283.74 356.57,282.65 356.93,281.55 C357.28,280.46 357.63,279.36 357.98,278.26 C358.33,277.16 358.67,276.06 359.01,274.96 C359.35,273.86 359.68,272.76 360.01,271.66 C360.34,270.55 360.67,269.45 360.98,268.34 C361.30,267.23 361.62,266.12 361.93,265.01 C362.23,263.90 362.54,262.79 362.83,261.68 C363.13,260.57 363.41,259.45 363.70,258.33 C363.98,257.22 364.25,256.10 364.52,254.98 C364.79,253.86 365.05,252.74 365.30,251.61 C365.55,250.49 365.80,249.36 366.04,248.24 C366.27,247.11 366.50,245.98 366.72,244.85 C366.94,243.72 367.15,242.59 367.35,241.45 C367.55,240.32 367.74,239.18 367.92,238.04 C368.10,236.91 368.27,235.77 368.43,234.63 C368.59,233.49 368.74,232.34 368.88,231.20 C369.02,230.06 369.15,228.91 369.26,227.77 C369.38,226.62 369.48,225.47 369.58,224.33 C369.67,223.18 369.75,222.03 369.82,220.88 C369.88,219.73 369.94,218.58 369.98,217.43 C370.01,216.28 370.04,215.12 370.05,213.97 C370.06,212.82 370.06,211.67 370.03,210.52 C370.01,209.37 369.98,208.21 369.92,207.06 C369.87,205.91 369.79,204.76 369.70,203.61 C369.61,202.47 369.51,201.32 369.38,200.17 C369.25,199.03 369.11,197.89 368.94,196.75 C368.77,195.61 368.59,194.47 368.38,193.34 C368.17,192.21 367.95,191.08 367.70,189.95 C367.45,188.83 367.17,187.71 366.88,186.59 C366.58,185.48 366.27,184.37 365.93,183.27 C365.59,182.17 365.22,181.08 364.83,179.99 C364.45,178.91 364.03,177.83 363.60,176.77 C363.16,175.70 362.70,174.64 362.22,173.60 C361.74,172.55 361.23,171.52 360.70,170.50 C360.18,169.47 359.63,168.46 359.06,167.46 C358.49,166.45 357.90,165.46 357.30,164.48 C356.69,163.50 356.07,162.53 355.43,161.58 C354.79,160.62 354.14,159.67 353.47,158.73 C352.80,157.79 352.11,156.87 351.42,155.95 C350.72,155.04 350.01,154.13 349.28,153.23 C348.56,152.34 347.82,151.45 347.07,150.58 C346.33,149.70 345.56,148.84 344.79,147.98 C344.03,147.12 343.24,146.28 342.46,145.44 C341.67,144.60 340.87,143.76 340.07,142.93 C339.27,142.10 338.47,141.28 337.66,140.46 C336.85,139.64 336.04,138.82 335.23,138.00 C334.42,137.18 333.61,136.37 332.80,135.54 C332.00,134.72 331.19,133.90 330.39,133.07 C329.59,132.24 328.79,131.41 328.00,130.57 C327.22,129.73 326.43,128.89 325.66,128.03 C324.89,127.17 324.13,126.31 323.38,125.43 C322.64,124.56 321.90,123.67 321.18,122.77 C320.46,121.87 319.75,120.96 319.07,120.04 C318.38,119.11 317.71,118.18 317.06,117.23 C316.41,116.27 315.77,115.31 315.18,114.32 C314.59,113.34 314.01,112.34 313.52,111.30 C313.03,110.26 312.56,109.19 312.24,108.09 C311.93,106.99 311.66,105.83 311.63,104.70 C311.59,103.57 311.72,102.37 312.03,101.28 C312.34,100.19 312.88,99.13 313.47,98.15 C314.06,97.18 314.80,96.27 315.57,95.42 C316.34,94.57 317.21,93.79 318.10,93.06 C318.98,92.33 319.94,91.67 320.90,91.04 C321.86,90.41 322.86,89.83 323.86,89.27 C324.87,88.71 325.89,88.18 326.92,87.67 C327.95,87.15 329.00,86.66 330.05,86.19 C331.10,85.72 332.16,85.26 333.22,84.83 C334.29,84.40 335.37,83.98 336.45,83.59 C337.53,83.19 338.62,82.81 339.71,82.44 C340.80,82.08 341.90,81.73 343.00,81.39 C344.10,81.05 345.21,80.73 346.31,80.41 C347.42,80.10 348.53,79.79 349.65,79.50 C350.76,79.20 351.87,78.91 352.99,78.63 C354.11,78.35 355.23,78.08 356.35,77.81 C357.47,77.55 358.59,77.29 359.71,77.03 C360.84,76.78 361.96,76.53 363.09,76.29 C364.21,76.05 365.34,75.81 366.47,75.58 C367.60,75.35 368.73,75.12 369.86,74.90 C370.99,74.68 372.12,74.47 373.25,74.26 C374.39,74.04 375.52,73.84 376.65,73.64 C377.79,73.43 378.92,73.23 380.06,73.04 C381.19,72.84 382.33,72.65 383.46,72.46 C384.60,72.27 385.74,72.09 386.87,71.91 C388.01,71.72 389.15,71.54 390.29,71.37 C391.42,71.19 392.56,71.01 393.70,70.84 C394.84,70.67 395.98,70.49 397.12,70.32 C398.26,70.15 399.40,69.98 400.54,69.81 C401.68,69.65 402.81,69.48 403.95,69.31 C405.09,69.15 406.23,68.98 407.37,68.82 C408.51,68.65 409.65,68.49 410.79,68.32 C411.93,68.16 413.08,68.00 414.22,67.84 C415.36,67.68 416.50,67.52 417.64,67.36 C418.78,67.20 419.92,67.04 421.06,66.89 C422.20,66.73 423.34,66.57 424.48,66.42 C425.63,66.26 426.77,66.11 427.91,65.96 C429.05,65.80 430.19,65.65 431.33,65.50 C432.48,65.35 433.62,65.20 434.76,65.05 C435.90,64.90 437.04,64.75 438.19,64.60 C439.33,64.46 440.47,64.31 441.61,64.16 C442.76,64.02 443.90,63.87 445.04,63.73 C446.18,63.58 447.33,63.44 448.47,63.30 C449.61,63.16 450.76,63.02 451.90,62.88 C453.04,62.73 454.19,62.60 455.33,62.46 C456.47,62.32 457.62,62.18 458.76,62.04 C459.90,61.91 461.05,61.77 462.19,61.63 C463.34,61.50 464.48,61.36 465.62,61.23 C466.77,61.10 467.91,60.96 469.06,60.83 C470.20,60.70 471.34,60.57 472.49,60.44 C473.63,60.31 474.78,60.18 475.92,60.05 C477.07,59.92 478.21,59.80 479.36,59.67 C480.50,59.54 481.65,59.42 482.79,59.29 C483.94,59.16 485.08,59.04 486.23,58.92 C487.37,58.79 488.52,58.67 489.66,58.55 C490.81,58.43 491.95,58.30 493.10,58.18 C494.24,58.06 495.39,57.94 496.53,57.82 C497.68,57.71 498.83,57.59 499.97,57.47 C501.12,57.35 502.26,57.24 503.41,57.12 C504.56,57.00 505.70,56.89 506.85,56.78 C507.99,56.66 509.14,56.55 510.29,56.43 C511.43,56.32 512.58,56.21 513.73,56.10 C514.87,55.99 516.02,55.88 517.16,55.77 C518.31,55.66 519.46,55.55 520.60,55.44 C521.75,55.33 522.90,55.22 524.05,55.12 C525.19,55.01 526.34,54.90 527.49,54.80 C528.63,54.69 529.78,54.59 530.93,54.48 C532.07,54.38 533.22,54.28 534.37,54.17 C535.52,54.07 536.66,53.97 537.81,53.87 C538.96,53.77 540.11,53.67 541.25,53.57 C542.40,53.47 543.55,53.37 544.70,53.27 C545.84,53.17 546.99,53.07 548.14,52.98 C549.29,52.88 550.43,52.78 551.58,52.69 C552.73,52.59 553.88,52.49 555.03,52.40 C556.17,52.31 557.32,52.21 558.47,52.12 C559.62,52.03 560.77,51.93 561.91,51.84 C563.06,51.75 564.21,51.66 565.36,51.57 C566.51,51.48 567.65,51.39 568.80,51.30 C569.95,51.21 571.10,51.12 572.25,51.03 C573.40,50.94 574.54,50.85 575.69,50.77 C576.84,50.68 577.99,50.59 579.14,50.51 C580.29,50.42 581.44,50.34 582.58,50.25 C583.73,50.17 584.88,50.08 586.03,50.00 C587.18,49.92 588.33,49.83 589.48,49.75 C590.63,49.67 591.78,49.59 592.92,49.51 C594.07,49.43 595.22,49.35 596.37,49.27 C597.52,49.19 598.67,49.11 599.82,49.03 C600.97,48.95 602.12,48.87 603.27,48.79 C604.42,48.72 605.56,48.64 606.71,48.56 C607.86,48.49 609.01,48.41 610.16,48.33 C611.31,48.26 612.46,48.18 613.61,48.11 C614.76,48.03 615.91,47.96 617.06,47.89 C618.21,47.81 619.36,47.74 620.51,47.67 C621.66,47.60 622.81,47.52 623.96,47.45 C625.10,47.38 626.25,47.31 627.40,47.24 C628.55,47.17 629.70,47.10 630.85,47.03 C632.00,46.96 633.15,46.89 634.30,46.82 C635.45,46.75 636.60,46.69 637.75,46.62 C638.90,46.55 640.05,46.48 641.20,46.42 C642.35,46.35 643.50,46.29 644.65,46.22 C645.80,46.15 646.95,46.09 648.10,46.02 C649.25,45.96 650.40,45.89 651.55,45.83 C652.70,45.77 653.85,45.70 655.00,45.64 C656.15,45.58 657.30,45.52 658.45,45.45 C659.60,45.39 660.75,45.33 661.90,45.27 C663.05,45.21 664.20,45.15 665.35,45.09 C666.50,45.02 667.65,44.96 668.80,44.91 C669.95,44.85 671.10,44.79 672.25,44.73 C673.40,44.67 674.56,44.61 675.71,44.55 C676.86,44.49 678.01,44.44 679.16,44.38 C680.31,44.32 681.46,44.26 682.61,44.21 C683.76,44.15 684.91,44.10 686.06,44.04 C687.21,43.98 688.36,43.93 689.51,43.87 C690.66,43.82 691.81,43.76 692.96,43.71 C694.11,43.66 695.26,43.60 696.41,43.55 C697.56,43.49 698.71,43.44 699.87,43.39 C701.02,43.33 702.17,43.28 703.32,43.23 C704.47,43.18 705.62,43.13 706.77,43.07 C707.92,43.02 709.07,42.97 710.22,42.92 C711.37,42.87 712.52,42.82 713.67,42.77 C714.82,42.72 715.97,42.67 717.13,42.62 C718.28,42.57 719.43,42.52 720.58,42.47 C721.73,42.42 722.88,42.37 724.03,42.32 C725.18,42.27 726.33,42.22 727.48,42.18 C728.63,42.13 729.78,42.08 730.94,42.03 C732.09,41.99 733.24,41.94 734.39,41.89 C735.54,41.84 736.69,41.80 737.84,41.75 C738.99,41.70 740.14,41.66 741.29,41.61 C742.44,41.57 743.59,41.52 744.75,41.47 C745.90,41.43 747.05,41.38 748.20,41.34 C749.35,41.29 750.50,41.25 751.65,41.20 C752.80,41.16 753.95,41.11 755.10,41.07 C756.25,41.03 757.41,40.98 758.56,40.94 C759.71,40.89 760.86,40.85 762.01,40.81 C763.16,40.76 764.31,40.72 765.46,40.68 C766.61,40.64 767.76,40.59 768.92,40.55 C770.07,40.51 771.22,40.46 772.37,40.42 C773.52,40.38 774.67,40.34 775.82,40.30 C776.97,40.25 778.12,40.21 779.28,40.17 C780.43,40.13 781.58,40.09 782.73,40.05 C783.88,40.01 785.03,39.96 786.18,39.92 C787.33,39.88 788.48,39.84 789.64,39.80 C790.79,39.76 791.94,39.72 793.09,39.68 C794.24,39.64 795.39,39.60 796.54,39.56 C797.69,39.52 798.84,39.48 800.00,39.44" stroke="#ff00ff" stroke-width="3.10"/>
<path d="M290.28,467.25 C290.71,465.84 291.15,464.43 291.59,463.01 C292.03,461.60 292.48,460.19 292.93,458.78 C293.37,457.36 293.83,455.95 294.28,454.55 C294.74,453.14 295.19,451.73 295.65,450.32 C296.12,448.91 296.58,447.51 297.05,446.10 C297.51,444.70 297.98,443.29 298.45,441.89 C298.93,440.49 299.40,439.08 299.88,437.68 C300.35,436.28 300.83,434.88 301.31,433.48 C301.79,432.08 302.28,430.68 302.76,429.28 C303.24,427.88 303.73,426.48 304.22,425.08 C304.71,423.69 305.20,422.29 305.69,420.89 C306.18,419.49 306.67,418.10 307.16,416.70 C307.66,415.30 308.15,413.91 308.64,412.51 C309.14,411.12 309.63,409.72 310.13,408.33 C310.63,406.93 311.12,405.54 311.62,404.14 C312.12,402.75 312.62,401.35 313.11,399.96 C313.61,398.57 314.11,397.17 314.61,395.78 C315.10,394.38 315.60,392.99 316.10,391.59 C316.60,390.20 317.09,388.80 317.59,387.41 C318.08,386.01 318.58,384.62 319.07,383.22 C319.57,381.83 320.06,380.43 320.55,379.03 C321.04,377.64 321.53,376.24 322.02,374.84 C322.51,373.44 323.00,372.05 323.49,370.65 C323.97,369.25 324.46,367.85 324.94,366.45 C325.42,365.05 325.90,363.65 326.38,362.25 C326.86,360.85 327.34,359.45 327.81,358.04 C328.28,356.64 328.76,355.24 329.23,353.83 C329.69,352.43 330.16,351.02 330.62,349.62 C331.09,348.21 331.55,346.80 332.00,345.39 C332.46,343.99 332.91,342.58 333.36,341.17 C333.81,339.75 334.26,338.34 334.70,336.93 C335.15,335.52 335.59,334.10 336.02,332.69 C336.46,331.27 336.89,329.86 337.32,328.44 C337.75,327.02 338.17,325.60 338.59,324.18 C339.01,322.76 339.42,321.34 339.83,319.92 C340.25,318.50 340.65,317.07 341.05,315.65 C341.45,314.22 341.85,312.80 342.24,311.37 C342.63,309.94 343.02,308.51 343.40,307.08 C343.78,305.65 344.16,304.22 344.53,302.78 C344.90,301.35 345.27,299.92 345.63,298.48 C345.98,297.04 346.34,295.60 346.68,294.16 C347.02,292.72 347.36,291.28 347.68,289.84 C348.01,288.39 348.33,286.95 348.63,285.50 C348.93,284.05 349.22,282.60 349.50,281.14 C349.78,279.69 350.05,278.23 350.29,276.77 C350.54,275.31 350.78,273.85 350.99,272.38 C351.21,270.92 351.41,269.45 351.59,267.98 C351.76,266.51 351.92,265.04 352.06,263.57 C352.20,262.09 352.31,260.62 352.40,259.14 C352.49,257.66 352.56,256.18 352.60,254.70 C352.63,253.22 352.65,251.74 352.63,250.26 C352.61,248.78 352.56,247.30 352.48,245.82 C352.40,244.34 352.29,242.86 352.14,241.39 C351.99,239.92 351.81,238.45 351.59,236.98 C351.37,235.52 351.11,234.06 350.82,232.61 C350.52,231.16 350.18,229.72 349.81,228.28 C349.43,226.85 349.01,225.43 348.55,224.02 C348.09,222.62 347.59,221.22 347.05,219.85 C346.51,218.47 345.92,217.11 345.30,215.77 C344.67,214.42 344.00,213.10 343.30,211.80 C342.60,210.49 341.86,209.21 341.10,207.94 C340.33,206.68 339.53,205.43 338.70,204.20 C337.87,202.98 337.01,201.77 336.13,200.58 C335.24,199.40 334.33,198.23 333.39,197.08 C332.46,195.93 331.50,194.81 330.51,193.70 C329.53,192.59 328.52,191.51 327.49,190.44 C326.47,189.38 325.42,188.33 324.35,187.31 C323.28,186.28 322.19,185.28 321.08,184.30 C319.97,183.32 318.84,182.36 317.70,181.42 C316.55,180.48 315.39,179.57 314.21,178.67 C313.03,177.78 311.83,176.90 310.62,176.05 C309.41,175.20 308.18,174.37 306.95,173.56 C305.71,172.74 304.46,171.95 303.20,171.18 C301.94,170.40 300.66,169.64 299.38,168.90 C298.10,168.16 296.81,167.43 295.51,166.72 C294.21,166.01 292.91,165.31 291.59,164.63 C290.28,163.94 288.96,163.27 287.64,162.61 C286.32,161.94 284.99,161.29 283.65,160.64 C282.32,160.00 280.98,159.36 279.65,158.73 C278.31,158.10 276.96,157.48 275.62,156.86 C274.27,156.24 272.92,155.63 271.57,155.03 C270.22,154.42 268.86,153.83 267.51,153.23 C266.15,152.64 264.79,152.05 263.43,151.47 C262.07,150.89 260.70,150.31 259.34,149.74 C257.97,149.17 256.60,148.61 255.23,148.04 C253.86,147.48 252.49,146.92 251.12,146.37 C249.74,145.82 248.37,145.27 246.99,144.72 C245.62,144.18 244.24,143.64 242.86,143.10 C241.48,142.56 240.10,142.03 238.72,141.49 C237.34,140.96 235.95,140.43 234.57,139.91 C233.18,139.38 231.80,138.86 230.41,138.34 C229.03,137.81 227.64,137.30 226.25,136.78 C224.87,136.26 223.48,135.74 222.09,135.23 C220.70,134.72 219.31,134.20 217.92,133.69 C216.53,133.18 215.14,132.67 213.75,132.16 C212.36,131.65 210.97,131.14 209.58,130.63 C208.19,130.12 206.80,129.61 205.41,129.10 C204.02,128.59 202.63,128.08 201.25,127.56 C199.86,127.05 198.47,126.53 197.08,126.01 C195.70,125.49 194.31,124.97 192.93,124.44 C191.55,123.91 190.17,123.38 188.79,122.84 C187.41,122.30 186.03,121.75 184.66,121.20 C183.28,120.65 181.91,120.09 180.54,119.53 C179.17,118.96 177.81,118.39 176.45,117.81 C175.09,117.22 173.73,116.63 172.37,116.03 C171.02,115.43 169.67,114.83 168.33,114.20 C166.98,113.58 165.63,112.97 164.31,112.30 C162.99,111.63 161.67,110.96 160.42,110.17 C159.16,109.39 157.91,108.57 156.80,107.61 C155.68,106.65 154.54,105.61 153.73,104.41 C152.92,103.21 152.05,101.78 151.93,100.40 C151.80,99.03 152.32,97.43 152.97,96.17 C153.62,94.90 154.75,93.78 155.83,92.80 C156.92,91.81 158.20,91.01 159.48,90.28 C160.76,89.54 162.14,88.97 163.51,88.41 C164.88,87.85 166.29,87.40 167.69,86.93 C169.10,86.46 170.52,86.03 171.93,85.60 C173.35,85.17 174.77,84.75 176.19,84.34 C177.62,83.94 179.04,83.54 180.47,83.16 C181.90,82.78 183.34,82.41 184.77,82.04 C186.21,81.68 187.65,81.33 189.09,80.99 C190.53,80.65 191.97,80.32 193.42,80.00 C194.87,79.68 196.31,79.37 197.76,79.07 C199.21,78.77 200.66,78.48 202.12,78.19 C203.57,77.91 205.03,77.63 206.48,77.36 C207.94,77.10 209.39,76.84 210.85,76.58 C212.31,76.33 213.77,76.08 215.23,75.84 C216.69,75.60 218.16,75.37 219.62,75.14 C221.08,74.91 222.55,74.69 224.01,74.47 C225.48,74.25 226.94,74.04 228.41,73.83 C229.87,73.62 231.34,73.41 232.80,73.21 C234.27,73.01 235.74,72.81 237.21,72.61 C238.67,72.42 240.14,72.22 241.61,72.03 C243.08,71.84 244.55,71.65 246.02,71.46 C247.48,71.27 248.95,71.09 250.42,70.90 C251.89,70.72 253.36,70.53 254.83,70.35 C256.30,70.17 257.77,69.99 259.24,69.81 C260.71,69.63 262.18,69.45 263.65,69.28 C265.12,69.10 266.59,68.92 268.06,68.75 C269.53,68.58 271.00,68.41 272.47,68.24 C273.94,68.07 275.41,67.90 276.88,67.73 C278.36,67.56 279.83,67.40 281.30,67.23 C282.77,67.07 284.24,66.91 285.71,66.75 C287.18,66.58 288.66,66.42 290.13,66.26 C291.60,66.11 293.07,65.95 294.55,65.79 C296.02,65.64 297.49,65.48 298.96,65.33 C300.44,65.18 301.91,65.02 303.38,64.87 C304.85,64.72 306.33,64.57 307.80,64.42 C309.27,64.28 310.75,64.13 312.22,63.98 C313.69,63.84 315.17,63.69 316.64,63.55 C318.12,63.41 319.59,63.26 321.06,63.12 C322.54,62.98 324.01,62.84 325.49,62.70 C326.96,62.57 328.43,62.43 329.91,62.29 C331.38,62.16 332.86,62.02 334.33,61.89 C335.81,61.75 337.28,61.62 338.76,61.49 C340.23,61.36 341.71,61.23 343.18,61.10 C344.66,60.97 346.13,60.84 347.61,60.71 C349.08,60.59 350.56,60.46 352.03,60.33 C353.51,60.21 354.98,60.09 356.46,59.96 C357.93,59.84 359.41,59.72 360.88,59.60 C362.36,59.47 363.84,59.35 365.31,59.23 C366.79,59.12 368.26,59.00 369.74,58.88 C371.22,58.76 372.69,58.65 374.17,58.53 C375.64,58.41 377.12,58.30 378.60,58.19 C380.07,58.07 381.55,57.96 383.03,57.85 C384.50,57.74 385.98,57.62 387.45,57.51 C388.93,57.40 390.41,57.29 391.88,57.19 C393.36,57.08 394.84,56.97 396.31,56.86 C397.79,56.75 399.27,56.65 400.75,56.54 C402.22,56.44 403.70,56.33 405.18,56.23 C406.65,56.12 408.13,56.02 409.61,55.92 C411.08,55.82 412.56,55.71 414.04,55.61 C415.52,55.51 416.99,55.41 418.47,55.31 C419.95,55.21 421.42,55.11 422.90,55.01 C424.38,54.91 425.86,54.82 427.33,54.72 C428.81,54.62 430.29,54.53 431.77,54.43 C433.24,54.33 434.72,54.24 436.20,54.14 C437.68,54.05 439.15,53.95 440.63,53.86 C442.11,53.77 443.59,53.67 445.07,53.58 C446.54,53.49 448.02,53.39 449.50,53.30 C450.98,53.21 452.45,53.12 453.93,53.03 C455.41,52.94 456.89,52.85 458.37,52.76 C459.84,52.67 461.32,52.58 462.80,52.49 C464.28,52.40 465.76,52.31 467.23,52.22 C468.71,52.14 470.19,52.05 471.67,51.96 C473.15,51.87 474.62,51.79 476.10,51.70 C477.58,51.61 479.06,51.53 480.54,51.44 C482.01,51.35 483.49,51.27 484.97,51.18 C486.45,51.10 487.93,51.01 489.41,50.93 C490.88,50.84 492.36,50.76 493.84,50.68 C495.32,50.59 496.80,50.51 498.28,50.42 C499.75,50.34 501.23,50.26 502.71,50.17 C504.19,50.09 505.67,50.01 507.14,49.92 C508.62,49.84 510.10,49.76 511.58,49.68 C513.06,49.59 514.54,49.51 516.02,49.43 C517.49,49.35 518.97,49.26 520.45,49.18 C521.93,49.10 523.41,49.02 524.89,48.94 C526.36,48.85 527.84,48.77 529.32,48.69 C530.80,48.61 532.28,48.53 533.76,48.45 C535.23,48.37 536.71,48.28 538.19,48.20 C539.67,48.12 541.15,48.04 542.63,47.96 C544.10,47.88 545.58,47.80 547.06,47.72 C548.54,47.63 550.02,47.55 551.50,47.47 C552.98,47.39 554.45,47.31 555.93,47.23 C557.41,47.15 558.89,47.07 560.37,46.99 C561.85,46.91 563.32,46.83 564.80,46.75 C566.28,46.67 567.76,46.59 569.24,46.51 C570.72,46.43 572.20,46.35 573.67,46.28 C575.15,46.20 576.63,46.12 578.11,46.04 C579.59,45.96 581.07,45.88 582.55,45.80 C584.02,45.73 585.50,45.65 586.98,45.57 C588.46,45.49 589.94,45.41 591.42,45.34 C592.90,45.26 594.37,45.18 595.85,45.11 C597.33,45.03 598.81,44.95 600.29,44.88 C601.77,44.80 603.25,44.72 604.73,44.65 C606.20,44.57 607.68,44.50 609.16,44.42 C610.64,44.35 612.12,44.27 613.60,44.20 C615.08,44.12 616.56,44.05 618.03,43.98 C619.51,43.90 620.99,43.83 622.47,43.76 C623.95,43.68 625.43,43.61 626.91,43.54 C628.39,43.47 629.86,43.39 631.34,43.32 C632.82,43.25 634.30,43.18 635.78,43.11 C637.26,43.04 638.74,42.97 640.22,42.90 C641.70,42.83 643.18,42.76 644.65,42.69 C646.13,42.62 647.61,42.55 649.09,42.48 C650.57,42.41 652.05,42.34 653.53,42.28 C655.01,42.21 656.49,42.14 657.97,42.07 C659.45,42.01 660.92,41.94 662.40,41.87 C663.88,41.81 665.36,41.74 666.84,41.68 C668.32,41.61 669.80,41.55 671.28,41.48 C672.76,41.42 674.24,41.36 675.72,41.29 C677.20,41.23 678.68,41.17 680.15,41.11 C681.63,41.04 683.11,40.98 684.59,40.92 C686.07,40.86 687.55,40.80 689.03,40.74 C690.51,40.68 691.99,40.62 693.47,40.56 C694.95,40.50 696.43,40.44 697.91,40.39 C699.39,40.33 700.87,40.27 702.35,40.22 C703.83,40.16 705.31,40.10 706.79,40.05 C708.26,39.99 709.74,39.94 711.22,39.88 C712.70,39.83 714.18,39.77 715.66,39.72 C717.14,39.67 718.62,39.62 720.10,39.56 C721.58,39.51 723.06,39.46 724.54,39.41 C726.02,39.36 727.50,39.31 728.98,39.26 C730.46,39.21 731.94,39.16 733.42,39.12 C734.90,39.07 736.38,39.02 737.86,38.97 C739.34,38.93 740.82,38.88 742.30,38.84 C743.78,38.79 745.26,38.75 746.74,38.70 C748.22,38.66 749.70,38.61 751.18,38.57 C752.66,38.53 754.14,38.49 755.62,38.45 C757.10,38.41 758.58,38.37 760.06,38.33 C761.54,38.29 763.02,38.25 764.50,38.21 C765.98,38.17 767.46,38.13 768.94,38.10 C770.42,38.06 771.90,38.03 773.38,37.99 C774.86,37.96 776.34,37.92 777.82,37.89 C779.30,37.86 780.78,37.82 782.26,37.79 C783.74,37.76 785.22,37.73 786.70,37.70 C788.19,37.67 789.67,37.64 791.15,37.61 C792.63,37.58 794.11,37.55 795.59,37.53 C797.07,37.50 798.55,37.48 800.03,37.45" stroke="#00a8a8" stroke-width="3.10"/>
</g>
<g stroke="#000" stroke-width="2" fill="none">
<rect x="75.2" y="12.6" width="719.90" height="445.10"/>
<g stroke-width="1.9">
<line x1="75.20" y1="457.70" x2="75.20" y2="452.10"/>
<line x1="75.20" y1="12.60" x2="75.20" y2="18.20"/>
<line x1="104.00" y1="457.70" x2="104.00" y2="454.30"/>
<line x1="104.00" y1="12.60" x2="104.00" y2="16.00"/>
<line x1="132.79" y1="457.70" x2="132.79" y2="454.30"/>
<line x1="132.79" y1="12.60" x2="132.79" y2="16.00"/>
<line x1="161.59" y1="457.70" x2="161.59" y2="454.30"/>
<line x1="161.59" y1="12.60" x2="161.59" y2="16.00"/>
<line x1="190.38" y1="457.70" x2="190.38" y2="454.30"/>
<line x1="190.38" y1="12.60" x2="190.38" y2="16.00"/>
<line x1="219.18" y1="457.70" x2="219.18" y2="452.10"/>
<line x1="219.18" y1="12.60" x2="219.18" y2="18.20"/>
<line x1="247.98" y1="457.70" x2="247.98" y2="454.30"/>
<line x1="247.98" y1="12.60" x2="247.98" y2="16.00"/>
<line x1="276.77" y1="457.70" x2="276.77" y2="454.30"/>
<line x1="276.77" y1="12.60" x2="276.77" y2="16.00"/>
<line x1="305.57" y1="457.70" x2="305.57" y2="454.30"/>
<line x1="305.57" y1="12.60" x2="305.57" y2="16.00"/>
<line x1="334.36" y1="457.70" x2="334.36" y2="454.30"/>
<line x1="334.36" y1="12.60" x2="334.36" y2="16.00"/>
<line x1="363.16" y1="457.70" x2="363.16" y2="452.10"/>
<line x1="363.16" y1="12.60" x2="363.16" y2="18.20"/>
<line x1="391.96" y1="457.70" x2="391.96" y2="454.30"/>
<line x1="391.96" y1="12.60" x2="391.96" y2="16.00"/>
<line x1="420.75" y1="457.70" x2="420.75" y2="454.30"/>
<line x1="420.75" y1="12.60" x2="420.75" y2="16.00"/>
<line x1="449.55" y1="457.70" x2="449.55" y2="454.30"/>
<line x1="449.55" y1="12.60" x2="449.55" y2="16.00"/>
<line x1="478.34" y1="457.70" x2="478.34" y2="454.30"/>
<line x1="478.34" y1="12.60" x2="478.34" y2="16.00"/>
<line x1="507.14" y1="457.70" x2="507.14" y2="452.10"/>
<line x1="507.14" y1="12.60" x2="507.14" y2="18.20"/>
<line x1="535.94" y1="457.70" x2="535.94" y2="454.30"/>
<line x1="535.94" y1="12.60" x2="535.94" y2="16.00"/>
<line x1="564.73" y1="457.70" x2="564.73" y2="454.30"/>
<line x1="564.73" y1="12.60" x2="564.73" y2="16.00"/>
<line x1="593.53" y1="457.70" x2="593.53" y2="454.30"/>
<line x1="593.53" y1="12.60" x2="593.53" y2="16.00"/>
<line x1="622.32" y1="457.70" x2="622.32" y2="454.30"/>
<line x1="622.32" y1="12.60" x2="622.32" y2="16.00"/>
<line x1="651.12" y1="457.70" x2="651.12" y2="452.10"/>
<line x1="651.12" y1="12.60" x2="651.12" y2="18.20"/>
<line x1="679.92" y1="457.70" x2="679.92" y2="454.30"/>
<line x1="679.92" y1="12.60" x2="679.92" y2="16.00"/>
<line x1="708.71" y1="457.70" x2="708.71" y2="454.30"/>
<line x1="708.71" y1="12.60" x2="708.71" y2="16.00"/>
<line x1="737.51" y1="457.70" x2="737.51" y2="454.30"/>
<line x1="737.51" y1="12.60" x2="737.51" y2="16.00"/>
<line x1="766.30" y1="457.70" x2="766.30" y2="454.30"/>
<line x1="766.30" y1="12.60" x2="766.30" y2="16.00"/>
<line x1="795.10" y1="457.70" x2="795.10" y2="452.10"/>
<line x1="795.10" y1="12.60" x2="795.10" y2="18.20"/>
<line x1="75.20" y1="457.70" x2="80.80" y2="457.70"/>
<line x1="795.10" y1="457.70" x2="789.50" y2="457.70"/>
<line x1="75.20" y1="435.44" x2="78.60" y2="435.44"/>
<line x1="795.10" y1="435.44" x2="791.70" y2="435.44"/>
<line x1="75.20" y1="413.19" x2="78.60" y2="413.19"/>
<line x1="795.10" y1="413.19" x2="791.70" y2="413.19"/>
<line x1="75.20" y1="390.94" x2="78.60" y2="390.94"/>
<line x1="795.10" y1="390.94" x2="791.70" y2="390.94"/>
<line x1="75.20" y1="368.68" x2="78.60" y2="368.68"/>
<line x1="795.10" y1="368.68" x2="791.70" y2="368.68"/>
<line x1="75.20" y1="346.43" x2="80.80" y2="346.43"/>
<line x1="795.10" y1="346.43" x2="789.50" y2="346.43"/>
<line x1="75.20" y1="324.17" x2="78.60" y2="324.17"/>
<line x1="795.10" y1="324.17" x2="791.70" y2="324.17"/>
<line x1="75.20" y1="301.91" x2="78.60" y2="301.91"/>
<line x1="795.10" y1="301.91" x2="791.70" y2="301.91"/>
<line x1="75.20" y1="279.66" x2="78.60" y2="279.66"/>
<line x1="795.10" y1="279.66" x2="791.70" y2="279.66"/>
<line x1="75.20" y1="257.40" x2="78.60" y2="257.40"/>
<line x1="795.10" y1="257.40" x2="791.70" y2="257.40"/>
<line x1="75.20" y1="235.15" x2="80.80" y2="235.15"/>
<line x1="795.10" y1="235.15" x2="789.50" y2="235.15"/>
<line x1="75.20" y1="212.90" x2="78.60" y2="212.90"/>
<line x1="795.10" y1="212.90" x2="791.70" y2="212.90"/>
<line x1="75.20" y1="190.64" x2="78.60" y2="190.64"/>
<line x1="795.10" y1="190.64" x2="791.70" y2="190.64"/>
<line x1="75.20" y1="168.38" x2="78.60" y2="168.38"/>
<line x1="795.10" y1="168.38" x2="791.70" y2="168.38"/>
<line x1="75.20" y1="146.13" x2="78.60" y2="146.13"/>
<line x1="795.10" y1="146.13" x2="791.70" y2="146.13"/>
<line x1="75.20" y1="123.88" x2="80.80" y2="123.88"/>
<line x1="795.10" y1="123.88" x2="789.50" y2="123.88"/>
<line x1="75.20" y1="101.62" x2="78.60" y2="101.62"/>
<line x1="795.10" y1="101.62" x2="791.70" y2="101.62"/>
<line x1="75.20" y1="79.37" x2="78.60" y2="79.37"/>
<line x1="795.10" y1="79.37" x2="791.70" y2="79.37"/>
<line x1="75.20" y1="57.11" x2="78.60" y2="57.11"/>
<line x1="795.10" y1="57.11" x2="791.70" y2="57.11"/>
<line x1="75.20" y1="34.86" x2="78.60" y2="34.86"/>
<line x1="795.10" y1="34.86" x2="791.70" y2="34.86"/>
<line x1="75.20" y1="12.60" x2="80.80" y2="12.60"/>
<line x1="795.10" y1="12.60" x2="789.50" y2="12.60"/>
</g>
</g>
<g opacity="0.995">
<g class="tl">
<text x="75.20" y="483.80" text-anchor="middle">160</text>
<text x="219.18" y="483.80" text-anchor="middle">170</text>
<text x="363.16" y="483.80" text-anchor="middle">180</text>
<text x="507.14" y="483.80" text-anchor="middle">190</text>
<text x="651.12" y="483.80" text-anchor="middle">200</text>
<text x="795.10" y="483.80" text-anchor="middle">210</text>
<text x="70.20" y="466.00" text-anchor="end">0.6</text>
<text x="70.20" y="354.73" text-anchor="end">0.7</text>
<text x="70.20" y="243.45" text-anchor="end">0.8</text>
<text x="70.20" y="132.18" text-anchor="end">0.9</text>
<text x="70.20" y="20.90" text-anchor="end">1.0</text>
<rect x="56.27" y="480.70" width="4.99" height="3.72" fill="#fff"/>
<rect x="64.56" y="480.70" width="3.89" height="3.72" fill="#fff"/>
<rect x="200.25" y="480.70" width="4.99" height="3.72" fill="#fff"/>
<rect x="208.54" y="480.70" width="3.89" height="3.72" fill="#fff"/>
<rect x="344.23" y="480.70" width="4.99" height="3.72" fill="#fff"/>
<rect x="352.52" y="480.70" width="3.89" height="3.72" fill="#fff"/>
<rect x="488.21" y="480.70" width="4.99" height="3.72" fill="#fff"/>
<rect x="496.50" y="480.70" width="3.89" height="3.72" fill="#fff"/>
<rect x="789.01" y="480.70" width="4.99" height="3.72" fill="#fff"/>
<rect x="797.31" y="480.70" width="3.89" height="3.72" fill="#fff"/>
<rect x="38.43" y="17.80" width="4.99" height="3.72" fill="#fff"/>
<rect x="46.72" y="17.80" width="3.89" height="3.72" fill="#fff"/>
</g>
<g class="ser">
<line x1="536.8" y1="240.00" x2="593.6" y2="240.00" stroke="#ff0000" stroke-width="2.30" stroke-dasharray="6.8 5.65"/>
<text x="605.00" y="245.40" font-size="20.00" stroke="#000" stroke-width="0.55" stroke-linejoin="round" font-style="italic" textLength="15.00" lengthAdjust="spacingAndGlyphs" >μ</text>
<text x="622.00" y="249.10" font-size="15.00" stroke="#000" stroke-width="0.40" stroke-linejoin="round" font-style="italic" textLength="12.60" lengthAdjust="spacingAndGlyphs" >B</text>
<path d="M645.2,236.80 H663.2 M645.2,242.40 H663.2" stroke="#000" stroke-width="1.55" fill="none"/>
<text x="671.70" y="245.40" font-size="23.00" stroke="#000" stroke-width="0.75" stroke-linejoin="round" textLength="13.20" lengthAdjust="spacingAndGlyphs" >0</text>
<text x="689.20" y="245.40" font-size="22.80" stroke="#000" stroke-width="0.75" stroke-linejoin="round" textLength="53.20" lengthAdjust="spacingAndGlyphs" >MeV</text>
<line x1="530.3" y1="281.10" x2="593.5" y2="281.10" stroke="#000" stroke-width="2.30" stroke-dasharray="3.85 3.6"/>
<text x="605.00" y="286.40" font-size="20.00" stroke="#000" stroke-width="0.55" stroke-linejoin="round" font-style="italic" textLength="15.00" lengthAdjust="spacingAndGlyphs" >μ</text>
<text x="622.00" y="290.10" font-size="15.00" stroke="#000" stroke-width="0.40" stroke-linejoin="round" font-style="italic" textLength="12.60" lengthAdjust="spacingAndGlyphs" >B</text>
<path d="M645.2,277.80 H663.2 M645.2,283.40 H663.2" stroke="#000" stroke-width="1.55" fill="none"/>
<text x="671.70" y="286.40" font-size="23.00" stroke="#000" stroke-width="0.75" stroke-linejoin="round" textLength="39.60" lengthAdjust="spacingAndGlyphs" >100</text>
<text x="715.60" y="286.40" font-size="22.80" stroke="#000" stroke-width="0.75" stroke-linejoin="round" textLength="53.20" lengthAdjust="spacingAndGlyphs" >MeV</text>
<line x1="530.4" y1="322.00" x2="593.5" y2="322.00" stroke="#0000ff" stroke-width="2.30" stroke-dasharray="2.2 2.2"/>
<text x="605.00" y="327.40" font-size="20.00" stroke="#000" stroke-width="0.55" stroke-linejoin="round" font-style="italic" textLength="15.00" lengthAdjust="spacingAndGlyphs" >μ</text>
<text x="622.00" y="331.10" font-size="15.00" stroke="#000" stroke-width="0.40" stroke-linejoin="round" font-style="italic" textLength="12.60" lengthAdjust="spacingAndGlyphs" >B</text>
<path d="M645.2,318.80 H663.2 M645.2,324.40 H663.2" stroke="#000" stroke-width="1.55" fill="none"/>
<text x="671.70" y="327.40" font-size="23.00" stroke="#000" stroke-width="0.75" stroke-linejoin="round" textLength="39.60" lengthAdjust="spacingAndGlyphs" >219</text>
<text x="715.60" y="327.40" font-size="22.80" stroke="#000" stroke-width="0.75" stroke-linejoin="round" textLength="53.20" lengthAdjust="spacingAndGlyphs" >MeV</text>
<line x1="529.7" y1="363.10" x2="594" y2="363.10" stroke="#ff00ff" stroke-width="2.30"/>
<text x="605.00" y="368.40" font-size="20.00" stroke="#000" stroke-width="0.55" stroke-linejoin="round" font-style="italic" textLength="15.00" lengthAdjust="spacingAndGlyphs" >μ</text>
<text x="622.00" y="372.10" font-size="15.00" stroke="#000" stroke-width="0.40" stroke-linejoin="round" font-style="italic" textLength="12.60" lengthAdjust="spacingAndGlyphs" >B</text>
<path d="M645.2,359.80 H663.2 M645.2,365.40 H663.2" stroke="#000" stroke-width="1.55" fill="none"/>
<text x="671.70" y="368.40" font-size="23.00" stroke="#000" stroke-width="0.75" stroke-linejoin="round" textLength="39.60" lengthAdjust="spacingAndGlyphs" >300</text>
<text x="715.60" y="368.40" font-size="22.80" stroke="#000" stroke-width="0.75" stroke-linejoin="round" textLength="53.20" lengthAdjust="spacingAndGlyphs" >MeV</text>
<line x1="529.7" y1="404.30" x2="594" y2="404.30" stroke="#00a8a8" stroke-width="2.30"/>
<text x="605.00" y="409.40" font-size="20.00" stroke="#000" stroke-width="0.55" stroke-linejoin="round" font-style="italic" textLength="15.00" lengthAdjust="spacingAndGlyphs" >μ</text>
<text x="622.00" y="413.10" font-size="15.00" stroke="#000" stroke-width="0.40" stroke-linejoin="round" font-style="italic" textLength="12.60" lengthAdjust="spacingAndGlyphs" >B</text>
<path d="M645.2,400.80 H663.2 M645.2,406.40 H663.2" stroke="#000" stroke-width="1.55" fill="none"/>
<text x="671.70" y="409.40" font-size="23.00" stroke="#000" stroke-width="0.75" stroke-linejoin="round" textLength="39.60" lengthAdjust="spacingAndGlyphs" >400</text>
<text x="715.60" y="409.40" font-size="22.80" stroke="#000" stroke-width="0.75" stroke-linejoin="round" textLength="53.20" lengthAdjust="spacingAndGlyphs" >MeV</text>
<text x="389.00" y="516.60" font-size="23.30" stroke="#000" stroke-width="0.45" stroke-linejoin="round" font-style="italic" textLength="17.40" lengthAdjust="spacingAndGlyphs" >T</text>
<path d="M418.60,499.10 h-2.9 v23.5 h2.9 M474.40,499.10 h2.9 v23.5 h-2.9" stroke="#000" stroke-width="1.25" fill="none"/>
<text x="419.00" y="516.60" font-size="24.00" stroke="#000" stroke-width="0.28" stroke-linejoin="round" textLength="55.20" lengthAdjust="spacingAndGlyphs" >MeV</text>
<g transform="translate(20.5,303.4) rotate(-90)">
<text x="0.00" y="0.00" font-size="21.60" stroke="#000" stroke-width="0.25" stroke-linejoin="round" font-style="italic" textLength="15.80" lengthAdjust="spacingAndGlyphs" >α</text>
<path d="M17.6,-11.3 L20.3,-19.4 Q21.3,-20.4 22.4,-19.3 L19,-11 Z" fill="#000"/>
<path d="M32.2,-18.3 L27.1,-6.9 L32.2,4.5" stroke="#000" stroke-width="1.25" fill="none"/>
<path d="M34.8,-11.6 C35.2,-13.8 36.6,-15.3 38.6,-15.9 C40.6,-16.4 42.2,-15.7 44.2,-16.1 C47.2,-16.9 50.6,-16.9 52.5,-15.3 C54.3,-13.8 54.3,-11 52.5,-9 C50.5,-7 46,-6.3 42.4,-6.3" stroke="#000" stroke-width="1.5" fill="none" stroke-linecap="round"/>
<path d="M42.9,-15.9 L38.8,0.3" stroke="#000" stroke-width="1.7" fill="none" stroke-linecap="round"/>
<path d="M56.9,-18.3 L62.3,-6.9 L56.9,4.5" stroke="#000" stroke-width="1.25" fill="none"/>
<path d="M75.40,-17.50 h-2.9 v23.5 h2.9 M131.20,-17.50 h2.9 v23.5 h-2.9" stroke="#000" stroke-width="1.25" fill="none"/>
<text x="75.80" y="0.00" font-size="24.00" stroke="#000" stroke-width="0.28" stroke-linejoin="round" textLength="55.20" lengthAdjust="spacingAndGlyphs" >MeV</text>
</g>
<text x="363.60" y="407.10" font-size="24.00" stroke="#000" stroke-width="0.50" stroke-linejoin="round" font-style="italic" textLength="17.80" lengthAdjust="spacingAndGlyphs" >T</text>
<text x="380.80" y="410.60" font-size="17.00" stroke="#000" stroke-width="0.55" stroke-linejoin="round" textLength="36.60" lengthAdjust="spacingAndGlyphs" >CEP</text>
</g>
</g>
</svg>
</body></html>
